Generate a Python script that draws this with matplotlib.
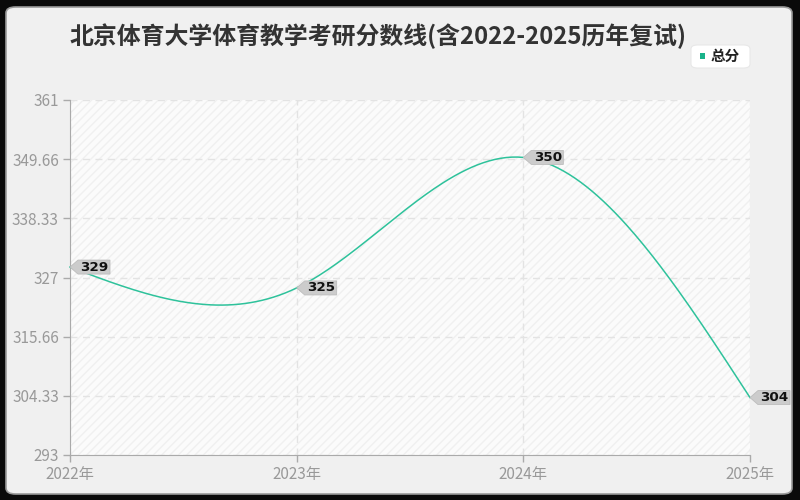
import matplotlib
matplotlib.use("Agg")
import matplotlib.pyplot as plt
import matplotlib.transforms as mtransforms
from matplotlib.patches import Polygon, FancyBboxPatch, Rectangle
import numpy as np

plt.rcParams['font.family'] = ['Noto Sans CJK SC', 'DejaVu Sans']

title = "北京体育大学体育教学考研分数线(含2022-2025历年复试)"
years = [2022, 2023, 2024, 2025]
x_labels = ["2022年", "2023年", "2024年", "2025年"]
scores = [329, 325, 350, 304]
series_name = "总分"
y_ticks = [293, 304.33, 315.66, 327, 338.33, 349.66, 361]
y_tick_labels = ["293", "304.33", "315.66", "327", "338.33", "349.66", "361"]

W, H = 800, 500
fig = plt.figure(figsize=(8, 5), dpi=100, facecolor='#0a0a0a')

# rounded background card
card = FancyBboxPatch((6 / W, 6 / H), (W - 14) / W, (H - 13) / H,
                      boxstyle="round,pad=0,rounding_size=0.012",
                      transform=fig.transFigure, facecolor='#f0f0f0',
                      edgecolor='#9a9a9a', linewidth=1.2, zorder=-5)
fig.patches.append(card)

L, R, T, B = 70, 750, 100, 455
ax = fig.add_axes([L / W, 1 - B / H, (R - L) / W, (B - T) / H])
ax.set_zorder(1)
ax.set_facecolor('#fbfbfb')
ax.add_patch(Rectangle((0, 0), 1, 1, transform=ax.transAxes, facecolor='none',
                       hatch='////', edgecolor='#f0f0f0', linewidth=0, zorder=0))
ax.set_xlim(years[0], years[-1])
ax.set_ylim(y_ticks[0], y_ticks[-1])

ax.set_yticks(y_ticks)
ax.set_yticklabels(y_tick_labels)
ax.set_xticks(years)
ax.set_xticklabels(x_labels)
for s in ['top', 'right']:
    ax.spines[s].set_visible(False)
ax.spines['left'].set_color('#aaaaaa')
ax.spines['bottom'].set_color('#aaaaaa')
ax.tick_params(axis='both', colors='#aaaaaa', labelsize=11, length=5, width=1)
ax.tick_params(axis='y', pad=3)
ax.tick_params(axis='x', pad=3)
for lab in ax.get_xticklabels() + ax.get_yticklabels():
    lab.set_color('#999999')
ax.grid(True, linestyle=(0, (5, 4)), color='#e3e3e3', linewidth=1)
ax.set_axisbelow(True)

# natural cubic spline through the points
xs = np.array(years, dtype=float)
ys = np.array(scores, dtype=float)
n = len(xs)
h = np.diff(xs)
A = np.zeros((n, n))
rhs = np.zeros(n)
A[0, 0] = 1
A[-1, -1] = 1
for i in range(1, n - 1):
    A[i, i - 1] = h[i - 1]
    A[i, i] = 2 * (h[i - 1] + h[i])
    A[i, i + 1] = h[i]
    rhs[i] = 6 * ((ys[i + 1] - ys[i]) / h[i] - (ys[i] - ys[i - 1]) / h[i - 1])
M = np.linalg.solve(A, rhs)
cx, cy = [], []
for i in range(n - 1):
    t = np.linspace(xs[i], xs[i + 1], 80)
    a = (xs[i + 1] - t) / h[i]
    b = (t - xs[i]) / h[i]
    s = (a * ys[i] + b * ys[i + 1]
         + ((a ** 3 - a) * M[i] + (b ** 3 - b) * M[i + 1]) * h[i] ** 2 / 6)
    cx.append(t)
    cy.append(s)
cx = np.concatenate(cx)
cy = np.concatenate(cy)
ax.plot(cx, cy, color='#2ec29b', linewidth=1.1, clip_on=False, zorder=3)

# value tags
for xv, yv in zip(years, scores):
    tr = fig.dpi_scale_trans + mtransforms.ScaledTranslation(xv, yv, ax.transData)
    hh = 0.07
    w = 0.40
    tip = 0.08
    poly = Polygon([(0, 0), (tip, hh), (w, hh), (w, -hh), (tip, -hh)], closed=True,
                   transform=tr, facecolor='#cccccc', edgecolor='#bdbdbd',
                   linewidth=0.6, clip_on=False, zorder=4)
    ax.add_patch(poly)
    ax.text(0.105, 0.0, str(yv), transform=tr, ha='left', va='center',
            fontsize=9.7, fontweight='bold', color='#111111', zorder=5,
            family=['DejaVu Sans'])

# title
fig.text(70 / W, 1 - 36 / H, title, ha='left', va='center', fontsize=17.2,
         fontweight='bold', color='#333333')

# legend
leg = FancyBboxPatch((691 / W, 1 - 68 / H), 59 / W, 23 / H,
                     boxstyle="round,pad=0,rounding_size=0.008",
                     transform=fig.transFigure, facecolor='white',
                     edgecolor='#e8e8e8', linewidth=0.8, zorder=2)
fig.patches.append(leg)
fig.patches.append(Rectangle((700 / W, 1 - 58.5 / H), 5 / W, 5 / H,
                             transform=fig.transFigure, facecolor='#19b38a',
                             edgecolor='none', zorder=3))
fig.text(711 / W, 1 - 55.5 / H, series_name, ha='left', va='center', fontsize=10.5,
         fontweight='bold', color='#222222', zorder=4)

fig.savefig('out.png', dpi=100, facecolor=fig.get_facecolor())
